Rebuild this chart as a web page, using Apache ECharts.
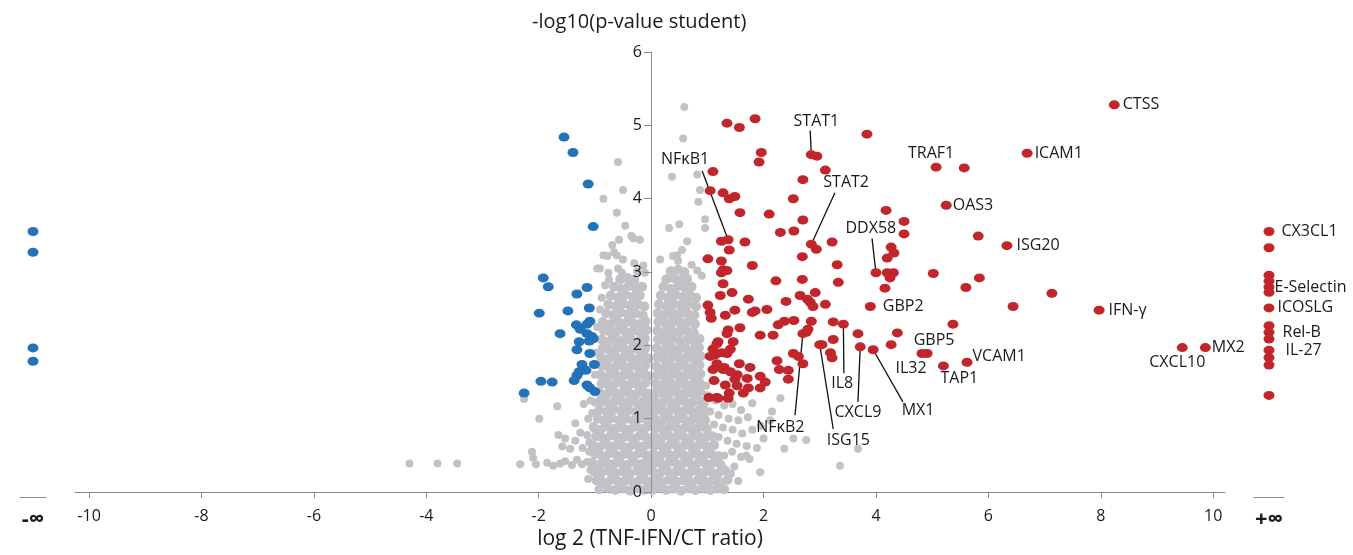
<!DOCTYPE html>
<html><head><meta charset="utf-8">
<script src="https://cdn.jsdelivr.net/npm/echarts@6/dist/echarts.min.js"></script>
<style>html,body{margin:0;padding:0;background:#fff}#c{width:1353px;height:555px}</style>
</head><body><div id="c"></div>
<script>
// ---------- data ----------
const xTicks = [-10,-8,-6,-4,-2,0,2,4,6,8,10];

// significantly up (red), unlabeled
const upX = [5.57,5.82,4.18,4.50,4.50,4.27,4.32,4.20,4.20,4.31,4.25,4.16,5.02,5.84,5.60,7.13,6.44,5.37,4.38,4.27,
 1.35,1.57,1.85,3.84,1.96,1.92,2.95,3.10,1.10,2.70,1.05,1.28,1.39,1.49,2.53,1.58,2.10,2.70,2.54,2.30,1.67,1.25,1.39,2.94,3.22,2.69,1.01,1.25,1.80,3.31,
 1.28,1.35,1.25,2.22,2.69,3.33,1.28,1.44,1.23,2.92,2.65,2.78,2.83,2.88,1.73,2.40,3.10,1.01,1.05,1.07,1.49,1.32,1.80,1.85,2.06,2.54,2.85,3.24,2.37,2.26,
 2.79,1.58,1.37,1.35,1.94,2.17,2.76,3.68,1.19,1.46,3.04,3.24,1.10,1.14,1.26,1.35,2.53,2.62,3.19,3.22,1.57,2.24,2.28,2.70,1.10,1.30,1.41,1.76,2.44,1.12,
 1.49,1.71,1.94,2.03,2.44,1.32,1.73,1.64,1.94,1.03,1.17,1.39,1.37,1.05,1.17,1.17,1.28,1.53,1.41,1.53,1.19];
const upY = [4.42,3.49,3.84,3.69,3.52,3.34,3.26,3.19,2.99,2.99,2.92,2.78,2.98,2.92,2.79,2.71,2.53,2.29,2.17,2.01,
 5.03,4.97,5.09,4.88,4.63,4.50,4.58,4.39,4.37,4.26,4.11,4.08,4.00,4.03,4.00,3.81,3.79,3.71,3.56,3.54,3.41,3.42,3.30,3.31,3.41,3.21,3.18,3.15,3.09,3.10,
 3.03,3.02,2.99,2.88,2.90,2.86,2.84,2.72,2.68,2.72,2.68,2.63,2.59,2.53,2.63,2.60,2.56,2.55,2.45,2.37,2.48,2.41,2.45,2.47,2.49,2.34,2.33,2.32,2.33,2.28,
 2.22,2.24,2.21,2.16,2.14,2.14,2.18,2.16,2.05,2.05,2.01,2.08,1.95,1.87,1.90,1.89,1.89,1.85,1.90,1.83,1.75,1.79,1.67,1.75,1.67,1.70,1.64,1.70,1.66,1.52,
 1.54,1.55,1.58,1.50,1.54,1.46,1.42,1.35,1.42,1.29,1.29,1.35,1.28,1.85,2.02,1.75,1.67,1.60,1.95,1.45,1.28];

// labeled genes (red)
const geneNames = ['CTSS','ICAM1','TRAF1','OAS3','ISG20','IFN-γ','GBP2','GBP5','IL32','TAP1','VCAM1','CXCL10','MX2',
 'STAT1','STAT2','NFκB1','DDX58','IL8','CXCL9','MX1','ISG15','NFκB2'];
const geneX = [8.24,6.69,5.07,5.25,6.33,7.97,3.90,4.91,4.82,5.20,5.62,9.45,9.86,2.85,2.85,1.37,4.00,3.42,3.72,3.95,3.00,2.70];
const geneY = [5.28,4.62,4.43,3.91,3.36,2.48,2.53,1.89,1.89,1.72,1.77,1.97,1.97,4.60,3.38,3.44,2.99,2.29,1.98,1.94,2.01,2.16];

// significantly down (blue)
const downX = [-1.55,-1.39,-1.12,-1.03,-1.92,-1.83,-1.14,-1.32,-1.99,-1.48,-1.10,-1.33,-1.26,-1.14,-1.09,-1.62,-1.14,-1.05,-1.10,-1.03,
 -1.28,-1.32,-1.09,-1.23,-1.01,-1.28,-1.16,-1.32,-1.37,-1.96,-1.76,-1.14,-1.00,-1.09,-2.26];
const downY = [4.84,4.63,4.20,3.62,2.92,2.80,2.79,2.70,2.44,2.47,2.51,2.28,2.22,2.29,2.33,2.16,2.16,2.12,2.06,2.09,
 2.05,1.94,1.89,1.74,1.74,1.64,1.66,1.59,1.52,1.51,1.50,1.46,1.37,1.42,1.35];

// only in one condition
const minusInfY = [3.58,3.30,2.01,1.83];
const plusInfY = [3.58,3.36,2.99,2.91,2.83,2.76,2.55,2.31,2.22,2.13,1.98,1.88,1.78,1.37];
const plusInfNames = ['CX3CL1','','','','E-Selectin','','ICOSLG','','Rel-B','','IL-27','','',''];

// not significant (grey)
const grayLeft = [
[-0.92,0.04],[-0.78,0.06],[-0.64,0.03],[-0.5,0.05],[-0.37,0.02],[-0.24,0.05],[-0.12,0.03],[-0.03,0.06],
[-0.97,0.16],[-0.85,0.13],[-0.71,0.17],[-0.58,0.14],[-0.45,0.16],[-0.31,0.13],[-0.19,0.17],[-0.07,0.15],
[-1.02,0.28],[-0.9,0.25],[-0.77,0.29],[-0.63,0.26],[-0.5,0.28],[-0.38,0.25],[-0.25,0.29],[-0.13,0.26],[-0.04,0.3],
[-1.05,0.4],[-0.92,0.37],[-0.8,0.41],[-0.67,0.38],[-0.55,0.4],[-0.42,0.37],[-0.3,0.41],[-0.17,0.38],[-0.06,0.41],
[-1.0,0.52],[-0.87,0.49],[-0.74,0.53],[-0.61,0.5],[-0.48,0.52],[-0.35,0.49],[-0.22,0.53],[-0.09,0.5],
[-1.04,0.64],[-0.92,0.61],[-0.79,0.65],[-0.66,0.62],[-0.53,0.64],[-0.4,0.61],[-0.27,0.65],[-0.14,0.62],[-0.05,0.65],
[-0.98,0.76],[-0.85,0.73],[-0.72,0.77],[-0.59,0.74],[-0.46,0.76],[-0.33,0.73],[-0.2,0.77],[-0.08,0.74],
[-1.02,0.88],[-0.9,0.85],[-0.77,0.89],[-0.64,0.86],[-0.51,0.88],[-0.38,0.85],[-0.25,0.89],[-0.12,0.86],[-0.04,0.9],
[-0.95,1.0],[-0.83,0.97],[-0.7,1.01],[-0.57,0.98],[-0.44,1.0],[-0.31,0.97],[-0.18,1.01],[-0.07,0.98],
[-0.92,1.12],[-0.79,1.09],[-0.66,1.13],[-0.53,1.1],[-0.4,1.12],[-0.27,1.09],[-0.14,1.13],[-0.05,1.1],
[-0.9,1.24],[-0.77,1.21],[-0.64,1.25],[-0.51,1.22],[-0.38,1.24],[-0.25,1.21],[-0.12,1.25],[-0.04,1.22],
[-0.92,1.36],[-0.79,1.33],[-0.66,1.37],[-0.53,1.34],[-0.4,1.36],[-0.27,1.33],[-0.14,1.37],[-0.05,1.34],
[-0.88,1.48],[-0.75,1.45],[-0.62,1.49],[-0.49,1.46],[-0.36,1.48],[-0.23,1.45],[-0.1,1.49],
[-0.9,1.6],[-0.77,1.57],[-0.64,1.61],[-0.51,1.58],[-0.38,1.6],[-0.25,1.57],[-0.12,1.61],[-0.05,1.58],
[-0.87,1.72],[-0.74,1.69],[-0.61,1.73],[-0.48,1.7],[-0.35,1.72],[-0.22,1.69],[-0.1,1.73],
[-0.89,1.84],[-0.76,1.81],[-0.63,1.85],[-0.5,1.82],[-0.37,1.84],[-0.24,1.81],[-0.12,1.85],[-0.05,1.82],
[-0.86,1.96],[-0.73,1.93],[-0.6,1.97],[-0.47,1.94],[-0.34,1.96],[-0.21,1.93],[-0.1,1.97],
[-0.88,2.08],[-0.75,2.05],[-0.62,2.09],[-0.49,2.06],[-0.36,2.08],[-0.23,2.05],[-0.11,2.09],
[-0.84,2.2],[-0.71,2.17],[-0.58,2.21],[-0.45,2.18],[-0.32,2.2],[-0.19,2.17],[-0.08,2.21],
[-0.86,2.32],[-0.73,2.29],[-0.6,2.33],[-0.47,2.3],[-0.34,2.32],[-0.21,2.29],[-0.1,2.33],
[-0.8,2.44],[-0.67,2.41],[-0.54,2.45],[-0.41,2.42],[-0.28,2.44],[-0.15,2.41],
[-0.76,2.56],[-0.63,2.53],[-0.5,2.57],[-0.37,2.54],[-0.24,2.56],[-0.12,2.53],
[-0.72,2.68],[-0.59,2.65],[-0.46,2.69],[-0.33,2.66],[-0.2,2.68],
[-0.66,2.8],[-0.53,2.77],[-0.4,2.81],[-0.27,2.78],[-0.16,2.8],
[-0.55,2.9],[-0.42,2.92],[-0.3,2.89]];
const grayRight = [
[0.02,0.03],[0.14,0.06],[0.27,0.03],[0.4,0.05],[0.53,0.02],[0.66,0.05],[0.79,0.03],[0.92,0.06],[1.05,0.03],[1.18,0.05],[1.3,0.04],
[0.06,0.16],[0.19,0.13],[0.32,0.17],[0.45,0.14],[0.58,0.16],[0.71,0.13],[0.84,0.17],[0.97,0.14],[1.1,0.16],[1.23,0.13],[1.36,0.17],
[0.03,0.28],[0.15,0.25],[0.28,0.29],[0.41,0.26],[0.54,0.28],[0.67,0.25],[0.8,0.29],[0.93,0.26],[1.06,0.28],[1.19,0.25],[1.32,0.29],
[0.07,0.4],[0.2,0.37],[0.33,0.41],[0.46,0.38],[0.59,0.4],[0.72,0.37],[0.85,0.41],[0.98,0.38],[1.11,0.4],[1.24,0.37],
[0.04,0.52],[0.16,0.49],[0.29,0.53],[0.42,0.5],[0.55,0.52],[0.68,0.49],[0.81,0.53],[0.94,0.5],[1.07,0.52],[1.2,0.49],
[0.08,0.64],[0.21,0.61],[0.34,0.65],[0.47,0.62],[0.6,0.64],[0.73,0.61],[0.86,0.65],[0.99,0.62],[1.12,0.64],
[0.06,0.76],[0.18,0.73],[0.31,0.77],[0.44,0.74],[0.57,0.76],[0.7,0.73],[0.83,0.77],[0.96,0.74],[1.09,0.76],
[0.08,0.88],[0.21,0.85],[0.34,0.89],[0.47,0.86],[0.6,0.88],[0.73,0.85],[0.86,0.89],[0.99,0.86],
[0.06,1.0],[0.19,0.97],[0.32,1.01],[0.45,0.98],[0.58,1.0],[0.71,0.97],[0.84,1.01],[0.96,0.98],
[0.09,1.12],[0.22,1.09],[0.35,1.13],[0.48,1.1],[0.61,1.12],[0.74,1.09],[0.87,1.13],[0.97,1.1],
[0.07,1.24],[0.2,1.21],[0.33,1.25],[0.46,1.22],[0.59,1.24],[0.72,1.21],[0.85,1.25],[0.94,1.22],
[0.09,1.36],[0.22,1.33],[0.35,1.37],[0.48,1.34],[0.61,1.36],[0.74,1.33],[0.87,1.37],
[0.08,1.48],[0.21,1.45],[0.34,1.49],[0.47,1.46],[0.6,1.48],[0.73,1.45],[0.86,1.49],
[0.1,1.6],[0.23,1.57],[0.36,1.61],[0.49,1.58],[0.62,1.6],[0.75,1.57],[0.88,1.61],
[0.09,1.72],[0.22,1.69],[0.35,1.73],[0.48,1.7],[0.61,1.72],[0.74,1.69],[0.86,1.73],
[0.11,1.84],[0.24,1.81],[0.37,1.85],[0.5,1.82],[0.63,1.84],[0.76,1.81],[0.88,1.85],
[0.1,1.96],[0.23,1.93],[0.36,1.97],[0.49,1.94],[0.62,1.96],[0.75,1.93],[0.85,1.97],
[0.12,2.08],[0.25,2.05],[0.38,2.09],[0.51,2.06],[0.64,2.08],[0.77,2.05],[0.86,2.09],
[0.11,2.2],[0.24,2.17],[0.37,2.21],[0.5,2.18],[0.63,2.2],[0.76,2.17],
[0.13,2.32],[0.26,2.29],[0.39,2.33],[0.52,2.3],[0.65,2.32],[0.78,2.29],
[0.12,2.44],[0.25,2.41],[0.38,2.45],[0.51,2.42],[0.64,2.44],[0.77,2.41],
[0.14,2.56],[0.27,2.53],[0.4,2.57],[0.53,2.54],[0.66,2.56],[0.8,2.53],
[0.17,2.68],[0.3,2.65],[0.43,2.69],[0.56,2.66],[0.69,2.68],[0.8,2.65],
[0.22,2.8],[0.35,2.77],[0.48,2.81],[0.61,2.78],[0.72,2.8],
[0.27,2.9],[0.4,2.92],[0.53,2.89],[0.64,2.91],
[0.35,3.01],[0.48,3.03],[0.59,3.0]];
const grayOut = [
[-4.3,0.39],[-3.8,0.39],[-3.45,0.39],
[-2.33,0.38],[-2.12,0.55],[-2.1,0.47],[-2.05,0.38],[-1.85,0.4],[-1.74,0.36],[-1.62,0.39],[-1.53,0.42],[-1.41,0.37],[-1.32,0.44],[-1.23,0.38],[-1.14,0.41],[-1.08,0.3],[-1.12,0.18],[-1.1,0.55],
[-1.65,0.78],[-1.53,0.73],[-1.58,0.62],[-1.44,0.59],[-1.35,0.7],[-1.35,0.94],[-1.26,0.81],[-1.14,0.78],[-1.12,1.0],[-1.03,0.9],[-1.05,1.08],[-1.22,0.6],[-1.1,0.68],
[-2.26,1.27],[-1.99,1.0],[-1.67,1.17],[-1.2,1.2],[-1.08,1.25],[-1.0,1.22],[-1.0,1.6],[-0.98,1.9],[-0.96,2.25],[-0.91,2.49],[-0.88,2.65],[-0.82,2.82],[-0.75,2.9],
[-0.59,4.5],[-0.5,4.12],[-0.85,4.0],[-0.61,3.81],[-0.46,3.63],[-0.57,3.44],[-0.69,3.37],[-0.35,3.49],[-0.32,3.46],[-0.66,3.27],[-0.61,3.23],[-0.78,3.22],[-0.85,3.23],
[-0.2,3.44],[-0.91,3.05],[-0.96,3.05],[-0.76,2.99],[-0.59,3.05],[-0.52,2.99],[-0.5,3.17],[-0.14,3.09],[-0.11,2.99],[-0.25,3.01],[-0.3,3.12],
[0.59,5.25],[0.57,4.82],[0.37,4.3],[0.82,4.33],[0.87,4.12],[0.84,3.96],[0.32,3.6],[0.5,3.65],[0.96,3.72],[0.96,3.6],[0.64,3.42],[0.55,3.3],[0.46,3.23],[0.48,3.15],
[0.39,3.22],[0.16,3.17],[0.82,3.02],[0.72,3.1],[0.9,2.95],
[1.15,1.25],[1.3,1.18],[1.45,1.2],[1.6,1.12],[1.05,1.1],[1.2,1.05],[1.38,1.0],[1.55,0.98],[1.72,1.02],[1.12,0.92],[1.28,0.88],[1.45,0.85],[1.62,0.8],[1.8,0.85],
[1.95,0.9],[1.2,0.75],[1.36,0.7],[1.52,0.66],[1.7,0.63],[1.88,0.6],[2.0,0.73],[2.37,0.59],[2.53,0.73],[2.76,0.71],[1.44,0.55],[1.6,0.48],[1.75,0.45],[1.3,0.5],
[1.48,0.35],[1.69,0.5],[1.42,0.25],[1.94,0.27],[1.55,0.15],[3.68,0.59],[3.36,0.36],[2.15,1.1],[1.8,1.21],[2.3,1.28],[2.12,0.98],[1.0,1.32],[0.98,1.45]];

// ---------- label placement (styles, not data) ----------
const directLabel = {
  'CTSS':{position:'right',distance:3}, 'ICAM1':{position:'right',distance:2}, 'OAS3':{position:'right',distance:1},
  'ISG20':{position:'right',distance:4}, 'IFN-γ':{position:'right',distance:4}, 'GBP2':{position:'right',distance:7},
  'VCAM1':{position:'right',distance:0,offset:[0,-6]}, 'MX2':{position:'right',distance:1},
  'TRAF1':{position:'inside',offset:[-5,-14]}, 'GBP5':{position:'inside',offset:[7,-13]},
  'IL32':{position:'inside',offset:[-11,15]}, 'TAP1':{position:'inside',offset:[16,12]},
  'CXCL10':{position:'inside',offset:[-5,15]}
};
// callouts: text centre and start of leader line, in axis units
const callout = {
  'NFκB1':{text:[0.605,4.53], from:[0.907,4.38]},
  'STAT1':{text:[2.94,5.05], from:[2.83,4.93]},
  'STAT2':{text:[3.47,4.22], from:[3.27,4.08]},
  'DDX58':{text:[3.91,3.60], from:[3.93,3.46]},
  'IL8':{text:[3.40,1.48], from:[3.43,1.62]},
  'CXCL9':{text:[3.68,1.09], from:[3.68,1.23]},
  'MX1':{text:[4.75,1.11], from:[4.48,1.23]},
  'ISG15':{text:[3.51,0.70], from:[3.24,0.86]},
  'NFκB2':{text:[2.30,0.88], from:[2.56,1.05]}
};
const plusLabelDist = {'CX3CL1':7,'E-Selectin':0,'ICOSLG':3,'Rel-B':8,'IL-27':11};

// ---------- build ----------
const FONT = 'Open Sans', TXT = '#1a1a1a', AX = '#8c8c8c';
const RED = '#c1262c', BLUE = '#2372ba', GREY = '#c2c2c6';
const pairs = (xs, ys) => xs.map((x, i) => [x, ys[i]]);
const geneData = geneNames.map((n, i) => {
  const d = directLabel[n];
  return {name:n, value:[geneX[i], geneY[i]], label: d ? Object.assign({show:true}, d) : {show:false}};
});
const leaderData = geneNames.map((n, i) => callout[n] ? {coords:[callout[n].from, [geneX[i], geneY[i]]]} : null).filter(Boolean);
const calloutText = Object.keys(callout).map(n => ({name:n, value:callout[n].text}));
const plusData = plusInfY.map((v, i) => {
  const n = plusInfNames[i];
  return {name:n, value:['+∞', v], label: n ? {show:true, position:'right', distance:plusLabelDist[n]} : {show:false}};
});
const labelBase = {fontFamily:FONT, fontSize:16, color:TXT, textBorderWidth:0, opacity:1};
const dotSize = [11, 9];

const chart = echarts.init(document.getElementById('c'));
chart.setOption({
  animation:false,
  backgroundColor:'#fff',
  graphic:[{type:'text', left:532, top:12, style:{text:'-log10(p-value student)', font:'20px "Open Sans"', fill:TXT}}],
  grid:[
    {left:75, right:128, top:52, bottom:58},
    {left:20, width:26, top:52, bottom:58},
    {left:1254, width:30, top:52, bottom:58}
  ],
  xAxis:[
    {gridIndex:0, type:'value', min:-10.25, max:10.21, splitLine:{show:false},
     axisLine:{show:true, onZero:false, lineStyle:{color:AX, width:1}},
     axisTick:{show:true, length:6, customValues:xTicks, lineStyle:{color:AX}},
     axisLabel:{customValues:xTicks, margin:16, fontSize:16, color:TXT, fontFamily:FONT},
     name:'log 2 (TNF-IFN/CT ratio)', nameLocation:'middle', nameGap:36,
     nameTextStyle:{fontSize:21, color:TXT, fontFamily:FONT}},
    {gridIndex:1, type:'category', data:['-∞'], axisLine:{show:true, lineStyle:{color:AX}}, axisTick:{show:false},
     axisLabel:{fontSize:22, fontWeight:'bold', color:TXT, margin:12, fontFamily:FONT}},
    {gridIndex:2, type:'category', data:['+∞'], axisLine:{show:true, lineStyle:{color:AX}}, axisTick:{show:false},
     axisLabel:{fontSize:22, fontWeight:'bold', color:TXT, margin:12, fontFamily:FONT}}
  ],
  yAxis:[
    {gridIndex:0, type:'value', position:'left', offset:-576, min:0, max:6, interval:1, splitLine:{show:false}, z:10,
     axisLine:{show:true, onZero:false, lineStyle:{color:AX, width:1}},
     axisTick:{show:true, length:7, lineStyle:{color:AX}},
     axisLabel:{margin:9, fontSize:16, color:TXT, fontFamily:FONT}},
    {gridIndex:1, type:'value', min:0, max:6, show:false},
    {gridIndex:2, type:'value', min:0, max:6, show:false}
  ],
  series:[
    {type:'scatter', xAxisIndex:0, yAxisIndex:0, data:grayLeft.concat(grayRight), symbolSize:10,
     itemStyle:{color:GREY, opacity:1}, z:1, silent:true},
    {type:'scatter', xAxisIndex:0, yAxisIndex:0, data:grayOut, symbolSize:8,
     itemStyle:{color:GREY, opacity:1}, z:1, silent:true},
    {type:'lines', coordinateSystem:'cartesian2d', xAxisIndex:0, yAxisIndex:0, data:leaderData,
     lineStyle:{color:'#111', width:1.3, opacity:1}, z:2, silent:true},
    {type:'scatter', xAxisIndex:0, yAxisIndex:0, data:pairs(downX, downY), symbolSize:dotSize, itemStyle:{color:BLUE, opacity:1}, z:3},
    {type:'scatter', xAxisIndex:0, yAxisIndex:0, data:pairs(upX, upY), symbolSize:dotSize, itemStyle:{color:RED, opacity:1}, z:3},
    {type:'scatter', xAxisIndex:0, yAxisIndex:0, data:geneData, symbolSize:dotSize, itemStyle:{color:RED, opacity:1}, z:4,
     label:Object.assign({show:false, formatter:'{b}'}, labelBase)},
    {type:'scatter', xAxisIndex:0, yAxisIndex:0, data:calloutText, symbolSize:1, itemStyle:{color:'#ffffff', opacity:1}, z:5, silent:true,
     label:Object.assign({show:true, position:'inside', formatter:'{b}'}, labelBase)},
    {type:'scatter', xAxisIndex:1, yAxisIndex:1, data:minusInfY.map(v => ['-∞', v]), symbolSize:dotSize, itemStyle:{color:BLUE, opacity:1}, z:3},
    {type:'scatter', xAxisIndex:2, yAxisIndex:2, data:plusData, symbolSize:dotSize, itemStyle:{color:RED, opacity:1}, z:3,
     label:Object.assign({show:false, formatter:'{b}'}, labelBase)}
  ]
});
</script></body></html>
